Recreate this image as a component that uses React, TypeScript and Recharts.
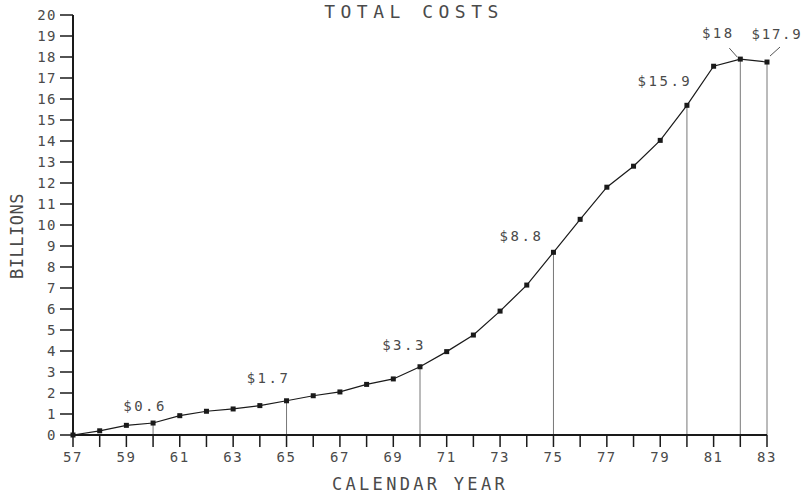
import React from 'react';
import { ComposedChart, Line, XAxis, YAxis, ReferenceLine, LabelList } from 'recharts';

// calendar years 1957-1983, total costs in billions of dollars
const years = [57, 58, 59, 60, 61, 62, 63, 64, 65, 66, 67, 68, 69, 70, 71, 72, 73, 74, 75, 76, 77, 78, 79, 80, 81, 82, 83];
const costs = [0, 0.2, 0.46, 0.57, 0.92, 1.13, 1.24, 1.4, 1.63, 1.87, 2.05, 2.41, 2.67, 3.25, 3.97, 4.76, 5.9, 7.14, 8.7, 10.27, 11.8, 12.8, 14.03, 15.7, 17.56, 17.9, 17.76];

// annotated years and their callouts
const labelYears = [60, 65, 70, 75, 80, 82, 83];
const labelTexts = ['$0.6', '$1.7', '$3.3', '$8.8', '$15.9', '$18', '$17.9'];

const yTicks = [0, 1, 2, 3, 4, 5, 6, 7, 8, 9, 10, 11, 12, 13, 14, 15, 16, 17, 18, 19, 20];

// callout placement relative to the point (text centre / baseline)
const calloutOffset: Record<number, { dx: number; dy: number; leader?: number[] }> = {
  60: { dx: -8, dy: -12 },
  65: { dx: -18, dy: -18 },
  70: { dx: -16, dy: -17 },
  75: { dx: -32, dy: -11 },
  80: { dx: -22, dy: -19 },
  82: { dx: -22, dy: -21, leader: [-11, -11, -3, -2] },
  83: { dx: 10, dy: -23, leader: [13, -15, 3, -6] },
};

const data = years.map((yr, i) => {
  const k = labelYears.indexOf(yr);
  return { year: yr, cost: costs[i], label: k >= 0 ? labelTexts[k] : undefined };
});

const FONT = '"DejaVu Sans Mono", monospace';
const INK = '#1a1a1a';
const TEXT = '#4a4a4a';

const Square = (props: any) => {
  const { cx, cy, index } = props;
  if (cx == null || cy == null) return <g key={`d${index}`} />;
  return <rect key={`d${index}`} x={cx - 2.5} y={cy - 2.5} width={5} height={5} fill={INK} />;
};

const Callout = (props: any) => {
  const { x, y, value, index } = props;
  if (!value) return null;
  const yr = years[index];
  const off = calloutOffset[yr];
  if (!off) return null;
  return (
    <g>
      <text
        x={x + off.dx}
        y={y + off.dy}
        textAnchor="middle"
        fontFamily={FONT}
        fontSize={14}
        letterSpacing={yr === 83 ? 1.8 : 2.5}
        fill={TEXT}
      >
        {value}
      </text>
      {off.leader && (
        <line
          x1={x + off.leader[0]}
          y1={y + off.leader[1]}
          x2={x + off.leader[2]}
          y2={y + off.leader[3]}
          stroke="#555"
          strokeWidth={1}
        />
      )}
    </g>
  );
};

const App: React.FC = () => {
  return (
    <div style={{ position: 'relative', width: 803, height: 495, background: '#fff' }}>
      <style>{'body{margin:0}'}</style>
      <ComposedChart
        width={803}
        height={495}
        data={data}
        margin={{ top: 15, right: 36, bottom: 0, left: 0 }}
      >
        <XAxis
          dataKey="year"
          type="number"
          domain={[57, 83]}
          ticks={years}
          interval={0}
          tickFormatter={(v: number) => (v % 2 === 1 ? String(v) : '')}
          height={60}
          tickSize={12}
          tickMargin={5}
          axisLine={{ stroke: INK, strokeWidth: 2 }}
          tickLine={{ stroke: INK, strokeWidth: 1.5 }}
          tick={{ fill: TEXT, fontFamily: FONT, fontSize: 14, letterSpacing: 1.5 }}
        />
        <YAxis
          type="number"
          domain={[0, 20]}
          ticks={yTicks}
          interval={0}
          width={73}
          tickSize={13}
          tickMargin={3}
          axisLine={{ stroke: INK, strokeWidth: 2 }}
          tickLine={{ stroke: INK, strokeWidth: 1.5 }}
          tick={{ fill: TEXT, fontFamily: FONT, fontSize: 14, letterSpacing: 1.5 }}
        />
        {labelYears.map((yr) => (
          <ReferenceLine
            key={yr}
            segment={[
              { x: yr, y: 0 },
              { x: yr, y: costs[years.indexOf(yr)] },
            ]}
            stroke="#777"
            strokeWidth={1}
          />
        ))}
        <Line
          dataKey="cost"
          type="linear"
          stroke={INK}
          strokeWidth={1.2}
          dot={Square}
          activeDot={false}
          isAnimationActive={false}
        >
          <LabelList dataKey="label" content={Callout} />
        </Line>
      </ComposedChart>
      <svg
        width={803}
        height={495}
        style={{ position: 'absolute', left: 0, top: 0, pointerEvents: 'none' }}
      >
        <text x={414} y={18} textAnchor="middle" fontFamily={FONT} fontSize={18} letterSpacing={5.5} fill={TEXT}>
          TOTAL COSTS
        </text>
        <text x={420} y={490} textAnchor="middle" fontFamily={FONT} fontSize={17} letterSpacing={3.3} fill={TEXT}>
          CALENDAR YEAR
        </text>
        <text
          x={23}
          y={236}
          textAnchor="middle"
          transform="rotate(-90 23 236)"
          fontFamily={FONT}
          fontSize={17}
          letterSpacing={0.5}
          fill={TEXT}
        >
          BILLIONS
        </text>
      </svg>
    </div>
  );
};

export default App;
